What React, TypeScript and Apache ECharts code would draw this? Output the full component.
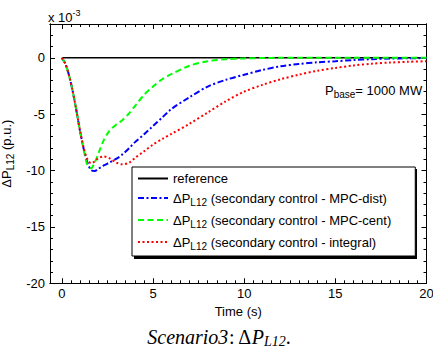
import React, { useEffect, useRef } from "react";
import * as echarts from "echarts";

// time (s)
const T = [0, 0.2, 0.4, 0.6, 0.8, 1.0, 1.2, 1.4, 1.6, 1.8, 2.0, 2.3, 2.6, 3.0, 3.3, 3.7, 4.0, 4.5, 5.0, 5.5, 6, 7, 8, 9, 10, 11, 12, 13, 14, 15, 16, 17, 18, 19, 20];
// values in units of 1e-3 p.u.
const MPC_DIST = [0, -0.55, -1.6, -3.0, -4.7, -6.5, -8.1, -9.3, -9.95, -10.05, -9.85, -9.55, -9.3, -8.95, -8.6, -8.0, -7.5, -6.8, -6.05, -5.3, -4.55, -3.5, -2.55, -1.95, -1.5, -1.08, -0.75, -0.55, -0.4, -0.3, -0.2, -0.12, -0.07, -0.04, -0.02];
const MPC_CENT = [0, -0.55, -1.6, -3.0, -4.7, -6.5, -8.2, -9.5, -9.8, -9.3, -8.5, -7.3, -6.5, -5.9, -5.55, -4.9, -4.3, -3.3, -2.55, -1.9, -1.45, -0.7, -0.3, -0.12, -0.05, -0.02, 0, 0, 0, 0, 0, 0, 0, 0, 0];
const INTEGRAL = [0, -0.55, -1.6, -3.0, -4.7, -6.5, -8.0, -9.0, -9.35, -9.2, -8.9, -8.75, -8.9, -9.3, -9.45, -9.3, -8.9, -8.3, -7.7, -7.2, -6.75, -5.85, -4.85, -3.85, -3.0, -2.4, -1.9, -1.5, -1.15, -0.9, -0.68, -0.52, -0.42, -0.35, -0.3];
const REF_T = [0, 20];
const REF_V = [0, 0];

const X_MIN = -0.65;
const X_MAX = 20;
const Y_MIN = -20;
const Y_MAX = 3;
const X_MAJOR = [0, 5, 10, 15, 20];
const X_MINOR = [0, 0.5, 1, 1.5, 2, 2.5, 3, 3.5, 4, 4.5, 5, 5.5, 6, 6.5, 7, 7.5, 8, 8.5, 9, 9.5, 10, 10.5, 11, 11.5, 12, 12.5, 13, 13.5, 14, 14.5, 15, 15.5, 16, 16.5, 17, 17.5, 18, 18.5, 19, 19.5, 20];
const Y_MAJOR = [-20, -15, -10, -5, 0];
const Y_MINOR = [-20, -19, -18, -17, -16, -15, -14, -13, -12, -11, -10, -9, -8, -7, -6, -5, -4, -3, -2, -1, 0, 1, 2, 3];

const NAMES = ["reference", "dist", "cent", "integral"];
const LEGEND_LABELS: Record<string, string> = {
  reference: "{n|reference}",
  dist: "{n|ΔP}{s|L12}{n| (secondary control - MPC-dist)}",
  cent: "{n|ΔP}{s|L12}{n| (secondary control - MPC-cent)}",
  integral: "{n|ΔP}{s|L12}{n| (secondary control - integral)}",
};

const FONT = "'Liberation Sans', Arial, Helvetica, sans-serif";
const SERIF = "'Liberation Serif', 'Times New Roman', serif";

function zip(xs: number[], ys: number[]) {
  return xs.map((x, i) => [x, ys[i]]);
}

function xAxisDef(position: string, ticks: number[], len: number, labels: boolean, name?: boolean) {
  return {
    type: "value",
    min: X_MIN,
    max: X_MAX,
    position,
    name: name ? "Time (s)" : "",
    nameLocation: "middle",
    nameGap: 14,
    nameTextStyle: { color: "#000", fontSize: 13, fontFamily: FONT },
    axisLine: { show: true, onZero: false, lineStyle: { color: "#000", width: 1 } },
    axisTick: { show: true, inside: true, length: len, customValues: ticks, lineStyle: { color: "#000", width: 1 } },
    axisLabel: labels
      ? { show: true, customValues: X_MAJOR, color: "#000", fontSize: 13, fontFamily: FONT, margin: 4 }
      : { show: false },
    splitLine: { show: false },
  };
}

function yAxisDef(position: string, ticks: number[], len: number, labels: boolean, name?: boolean) {
  return {
    type: "value",
    min: Y_MIN,
    max: Y_MAX,
    position,
    name: name ? "{n|ΔP}{s|L12}{n| (p.u.)}" : "",
    nameLocation: "middle",
    nameRotate: 90,
    nameGap: 30,
    nameTextStyle: {
      color: "#000",
      fontSize: 13,
      fontFamily: FONT,
      rich: {
        n: { fontSize: 13, fontFamily: FONT, color: "#000", lineHeight: 16 },
        s: { fontSize: 10, fontFamily: FONT, color: "#000", lineHeight: 12, padding: [8, 0, 0, 0] },
      },
    },
    axisLine: { show: true, onZero: false, lineStyle: { color: "#000", width: 1 } },
    axisTick: { show: true, inside: true, length: len, customValues: ticks, lineStyle: { color: "#000", width: 1 } },
    axisLabel: labels
      ? { show: true, customValues: Y_MAJOR, color: "#000", fontSize: 13, fontFamily: FONT, margin: 5 }
      : { show: false },
    splitLine: { show: false },
  };
}

export default function App() {
  const ref = useRef<HTMLDivElement>(null);
  useEffect(() => {
    if (!ref.current) return;
    const chart = echarts.init(ref.current, undefined, { renderer: "svg" });
    const option: any = {
      animation: false,
      backgroundColor: "#fff",
      grid: { left: 50, right: 6.5, top: 24, bottom: 66.7, show: false, containLabel: false, outerBoundsMode: "none" },
      xAxis: [
        xAxisDef("bottom", X_MAJOR, 5, true, true),
        xAxisDef("top", X_MAJOR, 5, false),
        xAxisDef("bottom", X_MINOR, 3, false),
        xAxisDef("top", X_MINOR, 3, false),
      ],
      yAxis: [
        yAxisDef("left", Y_MAJOR, 5, true, true),
        yAxisDef("right", Y_MAJOR, 5, false),
        yAxisDef("left", Y_MINOR, 3, false),
        yAxisDef("right", Y_MINOR, 3, false),
      ],
      legend: {
        orient: "vertical",
        left: 132,
        top: 167,
        data: NAMES,
        itemWidth: 30,
        itemHeight: 12,
        itemGap: 4,
        padding: [5, 24, 5, 5],
        backgroundColor: "#fff",
        borderColor: "#000",
        borderWidth: 1,
        itemStyle: { opacity: 0 },
        formatter: (name: string) => LEGEND_LABELS[name],
        textStyle: {
          color: "#000",
          fontSize: 13,
          fontFamily: FONT,
          rich: {
            n: { fontSize: 13, fontFamily: FONT, color: "#000", lineHeight: 16 },
            s: { fontSize: 10, fontFamily: FONT, color: "#000", lineHeight: 12, padding: [8, 0, 0, 0] },
          },
        },
      },
      graphic: [
        {
          type: "rect",
          z: 3,
          shape: { x: 134, y: 169, width: 283, height: 90 },
          style: { fill: "#000" },
        },
        {
          type: "text",
          x: 48,
          y: 17,
          style: {
            text: "{n|x 10}{p|-3}",
            align: "left",
            verticalAlign: "middle",
            rich: {
              n: { fontSize: 13, fontFamily: FONT, fill: "#000", lineHeight: 16 },
              p: { fontSize: 9, fontFamily: FONT, fill: "#000", lineHeight: 10, padding: [0, 0, 8, 0] },
            },
          },
        },
        {
          type: "text",
          x: 325,
          y: 90,
          style: {
            text: "{n|P}{s|base}{n|= 1000 MW}",
            align: "left",
            verticalAlign: "middle",
            rich: {
              n: { fontSize: 13, fontFamily: FONT, fill: "#000", lineHeight: 16 },
              s: { fontSize: 10, fontFamily: FONT, fill: "#000", lineHeight: 12, padding: [8, 0, 0, 0] },
            },
          },
        },
        {
          type: "text",
          x: 219,
          y: 337,
          style: {
            text: "{i|Scenario3}{r|: Δ}{i|P}{si|L12}{r|.}",
            align: "center",
            verticalAlign: "middle",
            rich: {
              i: { fontSize: 20, fontFamily: SERIF, fontStyle: "italic", fill: "#000", lineHeight: 22 },
              r: { fontSize: 20, fontFamily: SERIF, fill: "#000", lineHeight: 22 },
              si: { fontSize: 14, fontFamily: SERIF, fontStyle: "italic", fill: "#000", lineHeight: 14, padding: [8, 0, 0, 0] },
            },
          },
        },
      ],
      series: [
        {
          name: "reference",
          type: "line",
          data: zip(REF_T, REF_V),
          symbol: "none",
          lineStyle: { color: "#000", width: 1.5, type: "solid" },
          itemStyle: { color: "#000" },
        },
        {
          name: "dist",
          type: "line",
          data: zip(T, MPC_DIST),
          symbol: "none",
          smooth: 0.3,
          lineStyle: { color: "#0000ff", width: 2, type: [6, 2.5, 2, 2.5] },
          itemStyle: { color: "#0000ff" },
        },
        {
          name: "cent",
          type: "line",
          data: zip(T, MPC_CENT),
          symbol: "none",
          smooth: 0.3,
          lineStyle: { color: "#00ff00", width: 2, type: [6, 3.5] },
          itemStyle: { color: "#00ff00" },
        },
        {
          name: "integral",
          type: "line",
          data: zip(T, INTEGRAL),
          symbol: "none",
          smooth: 0.3,
          lineStyle: { color: "#ff0000", width: 2, type: [2, 2.5] },
          itemStyle: { color: "#ff0000" },
        },
      ],
    };
    chart.setOption(option);
    return () => chart.dispose();
  }, []);
  return (
    <div
      ref={ref}
      style={{ position: "fixed", left: 0, top: 0, width: 433, height: 350, background: "#fff" }}
    />
  );
}
